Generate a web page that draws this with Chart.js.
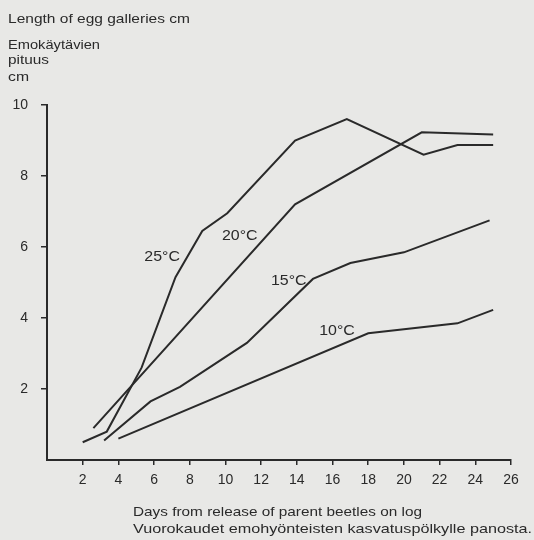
<!DOCTYPE html>
<html lang="en">
  <head>
    <meta charset="UTF-8" />
    <title>Length of egg galleries</title>
    <script src="https://cdn.jsdelivr.net/npm/chart.js@4.4.0/dist/chart.umd.min.js"></script>
    <style>
      html, body { margin: 0; padding: 0; background: #e8e8e6; }
      #chart { display: block; }
    </style>
  </head>
  <body>
    <canvas id="chart" width="534" height="540"></canvas>
    <script>
      // days from release of parent beetles / gallery length in cm
      var days25 = [2.0, 3.35, 5.3, 7.2, 8.7, 10.1, 13.9, 16.8, 21.1, 23.0, 25.0];
      var len25 = [0.5, 0.8, 2.6, 5.15, 6.45, 6.95, 9.0, 9.6, 8.6, 8.87, 8.87];
      var days20 = [2.6, 13.9, 21.0, 25.0];
      var len20 = [0.9, 7.2, 9.23, 9.17];
      var days15 = [3.2, 5.8, 7.45, 11.2, 14.9, 17.0, 20.0, 24.8];
      var len15 = [0.55, 1.65, 2.06, 3.3, 5.1, 5.55, 5.85, 6.75];
      var days10 = [4.0, 18.0, 23.0, 25.0];
      var len10 = [0.6, 3.57, 3.85, 4.23];

      var seriesNames = ["25°C", "20°C", "15°C", "10°C"];
      var labelDays = [6.45, 10.8, 13.55, 16.25];
      var labelLens = [5.72, 6.3, 5.04, 3.63];

      var ink = "#2a2a2a";
      var paper = "#e8e8e6";
      var fontFamily = '"Liberation Sans", Arial, sans-serif';

      // the printed type is a bit wider than Arial, so each caption is stretched to its width
      var captions = [
        { text: "Length of egg galleries cm", x: 8, y: 23, width: 182 },
        { text: "Emokäytävien", x: 8, y: 48.5, width: 92 },
        { text: "pituus", x: 8, y: 64, width: 41 },
        { text: "cm", x: 8, y: 80.5, width: 21 },
        { text: "Days from release of parent beetles on log", x: 133, y: 516, width: 289 },
        { text: "Vuorokaudet emohyönteisten kasvatuspölkylle panosta.", x: 133, y: 533, width: 399 },
      ];

      function toPoints(xs, ys) {
        return xs.map(function (x, i) {
          return { x: x, y: ys[i] };
        });
      }

      function line(xs, ys) {
        return {
          data: toPoints(xs, ys),
          showLine: true,
          borderColor: ink,
          borderWidth: 2,
          pointRadius: 0,
          tension: 0,
        };
      }

      function drawStretched(c, text, x, y, width) {
        var sx = width / c.measureText(text).width;
        c.save();
        c.translate(x, y);
        c.scale(sx, 1);
        c.fillText(text, 0, 0);
        c.restore();
      }

      var paperAndText = {
        id: "paperAndText",
        beforeDraw: function (chart) {
          var c = chart.ctx;
          c.save();
          c.fillStyle = paper;
          c.fillRect(0, 0, chart.width, chart.height);
          c.restore();
        },
        afterDraw: function (chart) {
          var c = chart.ctx;
          c.save();
          c.fillStyle = ink;
          c.font = "13.5px " + fontFamily;
          c.textBaseline = "alphabetic";
          captions.forEach(function (cap) {
            drawStretched(c, cap.text, cap.x, cap.y, cap.width);
          });
          var xs = chart.scales.x;
          var ys = chart.scales.y;
          c.font = "14.5px " + fontFamily;
          c.textAlign = "center";
          c.textBaseline = "middle";
          seriesNames.forEach(function (name, i) {
            c.save();
            c.translate(xs.getPixelForValue(labelDays[i]), ys.getPixelForValue(labelLens[i]));
            c.scale(1.1, 1);
            c.fillText(name, 0, 0);
            c.restore();
          });
          c.restore();
        },
      };

      function dropZero(axis) {
        axis.ticks = axis.ticks.filter(function (t) {
          return t.value !== 0;
        });
      }

      var ctx = document.getElementById("chart").getContext("2d");
      var chart = new Chart(ctx, {
        type: "scatter",
        data: {
          datasets: [line(days25, len25), line(days20, len20), line(days15, len15), line(days10, len10)],
        },
        options: {
          responsive: false,
          animation: false,
          layout: { padding: { left: 0, top: 105, right: 23, bottom: 0 } },
          plugins: {
            legend: { display: false },
            tooltip: { enabled: false },
          },
          scales: {
            x: {
              type: "linear",
              min: 0,
              max: 26,
              afterBuildTicks: dropZero,
              afterFit: function (s) {
                s.height = 80;
              },
              ticks: { stepSize: 2, color: ink, padding: 7, font: { family: fontFamily, size: 14 } },
              grid: { drawOnChartArea: false, drawTicks: true, tickLength: 5, color: ink, lineWidth: 1.5 },
              border: { display: true, color: ink, width: 2 },
            },
            y: {
              type: "linear",
              min: 0,
              max: 10,
              afterBuildTicks: dropZero,
              afterFit: function (s) {
                s.width = 47;
              },
              ticks: { stepSize: 2, color: ink, padding: 13, font: { family: fontFamily, size: 14 } },
              grid: { drawOnChartArea: false, drawTicks: true, tickLength: 6, color: ink, lineWidth: 1.5 },
              border: { display: true, color: ink, width: 2 },
            },
          },
        },
        plugins: [paperAndText],
      });
    </script>
  </body>
</html>
